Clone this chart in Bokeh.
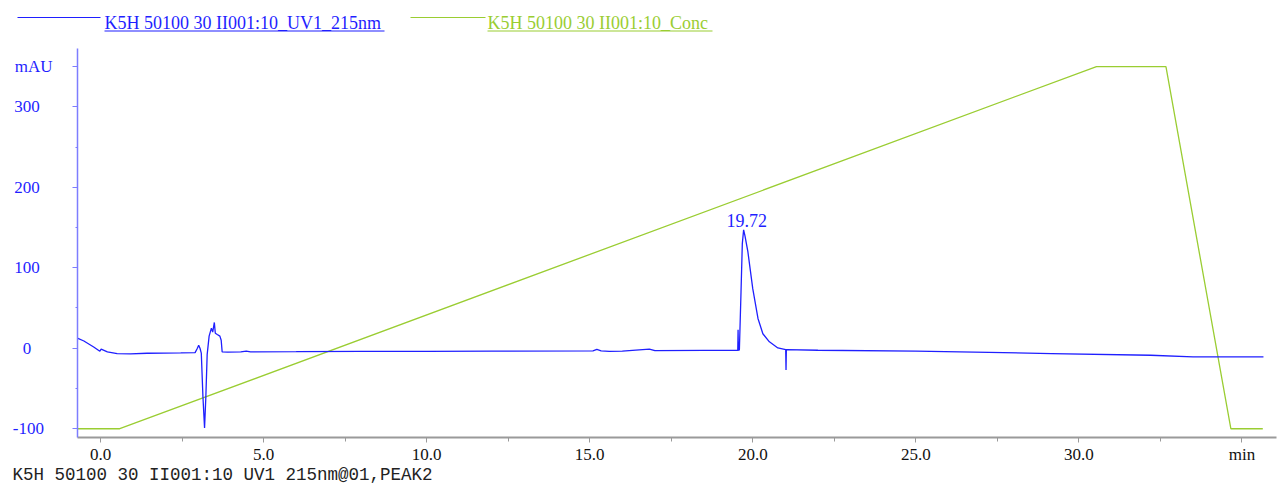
from bokeh.plotting import figure
from bokeh.models import Range1d, FixedTicker
from bokeh.layouts import column
from bokeh.embed import file_html
from bokeh.resources import INLINE
from bokeh.core.properties import value

# UV 215 nm trace: time (min) / absorbance (mAU)
uv_time = [-0.71, -0.51, -0.21, -0.02, 0.02, 0.21, 0.51, 0.92, 1.43, 2.46,
           2.90, 2.97, 3.01, 3.05, 3.09, 3.14, 3.19, 3.23, 3.27, 3.33,
           3.40, 3.44, 3.49, 3.52, 3.58, 3.66, 3.70, 3.73, 3.90, 4.30,
           4.47, 4.60, 6.0, 8.0, 10.0, 12.0, 15.10, 15.22, 15.35, 15.60,
           16.00, 16.83, 17.00, 18.50, 19.50, 19.54, 19.55, 19.56, 19.59, 19.64,
           19.68, 19.72, 19.76, 19.85, 20.00, 20.16, 20.31, 20.51, 20.77, 21.01,
           21.02, 21.03, 22.0, 25.0, 29.16, 32.2, 33.5, 35.66]
uv_mau = [12.5, 9.0, 1.6, -3.7, -1.2, -4.6, -6.6, -7.0, -6.2, -5.8,
          -5.4, 0.0, 3.7, 0.0, -6.0, -60.0, -99.0, -60.0, -8.0, 15.0,
          25.0, 20.0, 32.0, 18.6, 17.0, 15.0, 10.0, -4.5, -4.8, -4.5,
          -3.5, -4.5, -4.3, -4.0, -3.8, -3.5, -3.3, -1.5, -3.3, -3.8,
          -3.5, -1.0, -3.0, -2.7, -2.6, -2.6, 23.0, -2.6, -2.0, 70.0,
          130.0, 147.0, 140.0, 120.0, 74.0, 37.0, 18.0, 8.0, 0.4, -1.6,
          -27.0, -1.8, -2.5, -3.7, -6.6, -8.7, -10.8, -10.8]

# Gradient: time (min) / concentration (%B)
conc_time = [-0.71, 0.59, 30.54, 32.67, 34.66, 35.64]
conc_pct = [0, 0, 100, 100, 0, 0]

x_major = [0, 5, 10, 15, 20, 25, 30, 35]
x_minor = [2.5, 7.5, 12.5, 17.5, 22.5, 27.5, 32.5]
x_labels = {0: "0.0", 5: "5.0", 10: "10.0", 15: "15.0", 20: "20.0",
            25: "25.0", 30: "30.0", 35: "min"}
y_major = [-100, 0, 100, 200, 300, 350]
y_minor = [-50, 50, 150, 250]
y_texts = ["-100", "0", "100", "200", "300", "mAU"]

uv_name = "K5H 50100 30 II001:10_UV1_215nm"
conc_name = "K5H 50100 30 II001:10_Conc"
footer = "K5H 50100 30 II001:10 UV1 215nm@01,PEAK2"

BLUE = "#1f1fff"
AXIS_BLUE = "#7d7dff"
GREEN = "#9acd32"
SERIF = "Liberation Serif"
MONO = "Liberation Mono"
FS = "17px"

W = 1279
x0, x1 = -0.706, 36.06
y0, y1 = -110.9, 372.4
left_border = 77
frame_w = 1199


def strip(height):
    """A bare figure whose data units are screen pixels (y pointing down)."""
    s = figure(width=W, height=height, x_range=Range1d(0, W),
               y_range=Range1d(height, 0), toolbar_location=None,
               output_backend="svg", min_border=0, frame_align=False)
    s.axis.visible = False
    s.grid.visible = False
    s.outline_line_color = None
    return s


# ---- legend strip ----
leg = strip(40)
leg.segment(x0=[17, 410], y0=[17, 17], x1=[100, 485], y1=[17, 17],
            line_color=[BLUE, GREEN], line_width=1.2)
leg.text(x=[104, 487], y=[22, 22], text=[uv_name, conc_name],
         text_color=[BLUE, GREEN], text_font=value(SERIF), text_font_size="18px",
         text_baseline="middle", text_align="left")
leg.segment(x0=[104, 487], y0=[30.5, 30.5], x1=[384, 712], y1=[30.5, 30.5],
            line_color=[BLUE, GREEN], line_width=1.2)

# ---- chromatogram ----
p = figure(width=W, height=426, x_range=Range1d(x0, x1), y_range=Range1d(y0, y1),
           toolbar_location=None, output_backend="svg",
           min_border_left=left_border, min_border_right=W - left_border - frame_w,
           min_border_top=8, min_border_bottom=29, frame_align=False)
p.grid.visible = False
p.outline_line_color = None

# concentration on its own hidden scale: 0 %B -> -100 mAU, 100 %B -> 350 mAU
p.extra_y_ranges = {"conc": Range1d((y0 + 100) / 4.5, (y1 + 100) / 4.5)}
p.line(conc_time, conc_pct, y_range_name="conc", line_color=GREEN, line_width=1.3)
p.line(uv_time, uv_mau, line_color=BLUE, line_width=1.3)

# retention time label at the apex
i_max = max(range(len(uv_mau)), key=lambda i: uv_mau[i])
p.text(x=[uv_time[i_max]], y=[uv_mau[i_max]], text=[f"{uv_time[i_max]:.2f}"],
       text_color=BLUE, text_font=value(SERIF), text_font_size="18px",
       text_align="center", text_baseline="bottom", x_offset=3, y_offset=-3)

xa = p.xaxis[0]
xa.ticker = FixedTicker(ticks=x_major, minor_ticks=x_minor)
xa.major_label_overrides = x_labels
xa.axis_line_color = "#9a9a9a"
xa.axis_line_width = 2
xa.major_tick_line_color = "#9a9a9a"
xa.minor_tick_line_color = "#9a9a9a"
xa.major_tick_in = 0
xa.major_tick_out = 5
xa.minor_tick_in = 0
xa.minor_tick_out = 4
xa.major_label_standoff = 2
xa.major_label_text_font = SERIF
xa.major_label_text_font_size = FS
xa.major_label_text_color = "#111111"

# y labels sit roughly centred in the margin: right-aligned text padded with
# no-break spaces
NBSP = "\u00a0"
y_pad = [2, 5, 3, 3, 3, 0]
ya = p.yaxis[0]
ya.ticker = FixedTicker(ticks=y_major, minor_ticks=y_minor)
ya.major_label_overrides = {v: t + NBSP * n for v, t, n in zip(y_major, y_texts, y_pad)}
ya.axis_line_color = AXIS_BLUE
ya.axis_line_width = 1.5
ya.major_tick_line_color = AXIS_BLUE
ya.minor_tick_line_color = AXIS_BLUE
ya.major_tick_in = 0
ya.major_tick_out = 5
ya.minor_tick_in = 0
ya.minor_tick_out = 2
ya.major_label_standoff = 20
ya.major_label_text_font = SERIF
ya.major_label_text_font_size = FS
ya.major_label_text_color = BLUE

# ---- run identification line ----
foot = strip(18)
foot.text(x=[12], y=[8.5], text=[footer], text_color="#222222",
          text_font=value(MONO), text_font_size="17.5px",
          text_baseline="middle", text_align="left")

open("out.html", "w").write(file_html(column(leg, p, foot, spacing=0), INLINE))
